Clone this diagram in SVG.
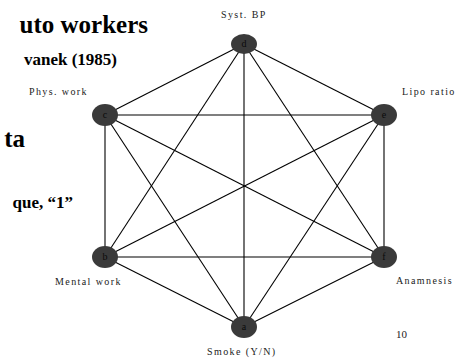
<svg xmlns="http://www.w3.org/2000/svg" width="460" height="362" viewBox="0 0 460 362">
<style>
.e{stroke:#000;stroke-width:1.1;fill:none}
.n{fill:#3a3a3a}
.nl{font-family:"Liberation Serif",serif;font-size:10px;fill:#0a0a0a;text-anchor:middle}
.lb{font-family:"Liberation Serif",serif;font-size:10px;fill:#222;letter-spacing:1.4px}
.big{font-family:"Liberation Serif","Times New Roman",serif;font-weight:bold;fill:#000;text-anchor:end}
</style>
<rect width="460" height="362" fill="#fff"/>
<g id="title">
<text class="big" x="148" y="33" font-size="25" font-family="Liberation Serif, serif">uto workers</text>
<text class="big" x="117" y="65" font-size="17" font-family="Liberation Serif, serif">vanek (1985)</text>
<text class="big" x="25" y="147" font-size="25" font-family="Liberation Serif, serif">ta</text>
<text class="big" x="73" y="208" font-size="17" font-family="Liberation Serif, serif">que, “1”</text>
</g>
<g id="connectors">
<line class="e" x1="244" y1="44" x2="105" y2="115"/>
<line class="e" x1="244" y1="44" x2="384" y2="115"/>
<line class="e" x1="244" y1="44" x2="105" y2="257"/>
<line class="e" x1="244" y1="44" x2="384" y2="257"/>
<line class="e" x1="244" y1="44" x2="244" y2="327"/>
<line class="e" x1="105" y1="115" x2="384" y2="115"/>
<line class="e" x1="105" y1="115" x2="105" y2="257"/>
<line class="e" x1="105" y1="115" x2="384" y2="257"/>
<line class="e" x1="105" y1="115" x2="244" y2="327"/>
<line class="e" x1="384" y1="115" x2="105" y2="257"/>
<line class="e" x1="384" y1="115" x2="384" y2="257"/>
<line class="e" x1="384" y1="115" x2="244" y2="327"/>
<line class="e" x1="105" y1="257" x2="384" y2="257"/>
<line class="e" x1="105" y1="257" x2="244" y2="327"/>
<line class="e" x1="384" y1="257" x2="244" y2="327"/>
</g>
<g id="node-d"><ellipse class="n" cx="244" cy="44" rx="13" ry="10"/><text class="nl" x="244" y="47">d</text></g>
<g id="node-c"><ellipse class="n" cx="105" cy="115" rx="13" ry="11"/><text class="nl" x="105" y="118">c</text></g>
<g id="node-e"><ellipse class="n" cx="384" cy="115" rx="13" ry="11"/><text class="nl" x="384" y="118">e</text></g>
<g id="node-b"><ellipse class="n" cx="105" cy="257" rx="13" ry="11"/><text class="nl" x="105" y="260">b</text></g>
<g id="node-f"><ellipse class="n" cx="384" cy="257" rx="13" ry="11"/><text class="nl" x="384" y="260">f</text></g>
<g id="node-a"><ellipse class="n" cx="244" cy="327" rx="13" ry="11"/><text class="nl" x="244" y="330">a</text></g>
<g id="labels">
<text class="lb" x="221" y="18">Syst. BP</text>
<text class="lb" x="29" y="95">Phys. work</text>
<text class="lb" x="402" y="95">Lipo ratio</text>
<text class="lb" x="55" y="285">Mental work</text>
<text class="lb" x="396" y="284">Anamnesis</text>
<text class="lb" x="207" y="355">Smoke (Y/N)</text>
<text x="396" y="338" font-family="Liberation Serif, serif" font-size="11" fill="#222">10</text>
</g>
</svg>
